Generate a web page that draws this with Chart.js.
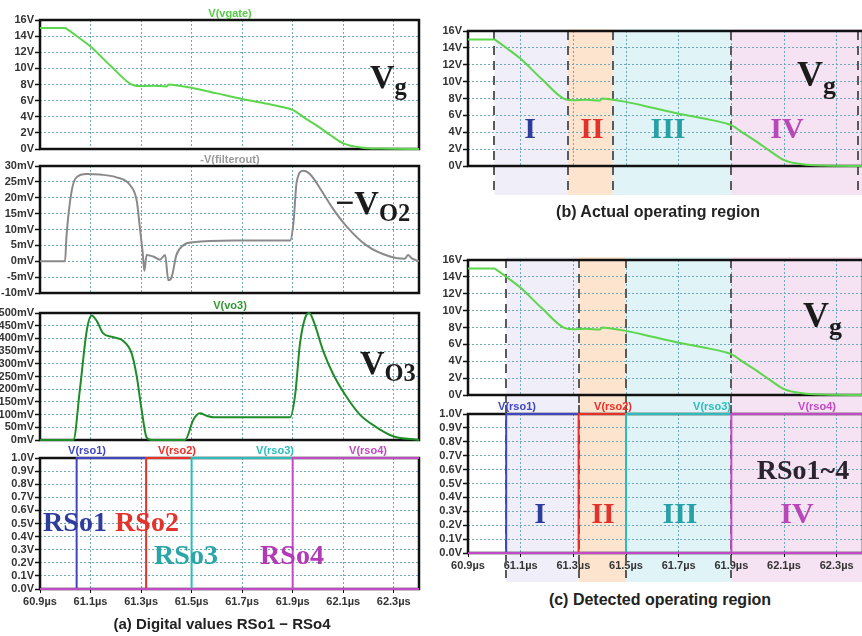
<!DOCTYPE html>
<html>
<head>
<meta charset="utf-8">
<script src="https://cdn.jsdelivr.net/npm/chart.js@4.4.0/dist/chart.umd.min.js"></script>
<style>
    html, body { margin: 0; padding: 0; background: #fff; }
    #page { position: relative; width: 862px; height: 636px; overflow: hidden; background: #fff; font-family: "Liberation Sans", Arial, sans-serif; }
    .cv { position: absolute; }
    .lbl { position: absolute; white-space: nowrap; line-height: 1; }
    .ctr { transform: translate(-50%, -50%); }
    .sig { font-size: 11px; font-weight: bold; }
    .big { font-family: "Liberation Serif", "DejaVu Serif", serif; font-weight: bold; color: #1b1b1b; }
    .big span { font-size: 0.72em; position: relative; top: 0.3em; }
    .cap { font-size: 16px; font-weight: bold; color: #222; }
</style>
</head>
<body>
<div id="page"></div>
<script>
    // --- DATOS ---
    const X_MIN = 60.9;
    const X_MAX = 62.4;
    const X_TICKS = [60.9, 61.1, 61.3, 61.5, 61.7, 61.9, 62.1, 62.3];

    const VG_TICKS = [0, 2, 4, 6, 8, 10, 12, 14, 16];
    const VO2_TICKS = [-10, -5, 0, 5, 10, 15, 20, 25, 30];
    const VO3_TICKS = [0, 50, 100, 150, 200, 250, 300, 350, 400, 450, 500];
    const RSO_TICKS = [0, 0.1, 0.2, 0.3, 0.4, 0.5, 0.6, 0.7, 0.8, 0.9, 1.0];

    // V(vgate) [V]
    const VG_T = [60.9, 61.0, 61.01, 61.05, 61.1, 61.18, 61.27, 61.3, 61.35, 61.4, 61.41, 61.43, 61.5, 61.6, 61.7, 61.8, 61.88, 61.9, 61.95, 62.0, 62.05, 62.1, 62.17, 62.25, 62.4];
    const VG_V = [15, 15, 14.8, 13.9, 12.7, 10.3, 7.9, 7.8, 7.85, 7.75, 8.0, 7.95, 7.6, 6.9, 6.2, 5.6, 5.05, 4.85, 3.8, 2.8, 1.7, 0.7, 0.2, 0.05, 0];

    // -V(filterout) [mV]
    const VO2_T = [60.9, 60.999, 61.005, 61.025, 61.045, 61.085, 61.137, 61.2, 61.256, 61.283, 61.296, 61.306, 61.313, 61.322, 61.348, 61.375, 61.395, 61.408, 61.421, 61.44, 61.467, 61.507, 61.665, 61.89, 61.903, 61.916, 61.942, 61.968, 62.008, 62.06, 62.113, 62.192, 62.285, 62.344, 62.357, 62.37, 62.4];
    const VO2_V = [0, 0, 8, 22, 26.5, 27.5, 27.3, 26.5, 24, 19, 10, 3, -3, 2, 1.5, 0.5, 2, -6, -5, 2, 5, 6, 6.5, 6.5, 12, 25, 28.5, 27.5, 23, 16.5, 11, 5, 1.5, 0.8, 2, 1, 0];

    // V(vo3) [mV]
    const VO3_T = [60.9, 61.032, 61.058, 61.085, 61.104, 61.124, 61.15, 61.19, 61.23, 61.263, 61.283, 61.302, 61.322, 61.342, 61.474, 61.507, 61.533, 61.56, 61.586, 61.89, 61.91, 61.929, 61.949, 61.966, 61.982, 62.021, 62.06, 62.113, 62.166, 62.232, 62.298, 62.4];
    const VO3_V = [0, 0, 200, 430, 490, 470, 420, 405, 390, 340, 250, 120, 10, 0, 0, 80, 105, 95, 90, 90, 180, 380, 480, 500, 470, 350, 260, 170, 100, 50, 15, 0];

    // V(rso1..4)  (null: el flanco de bajada queda tapado en la figura)
    const RSO1_T = [60.9, 61.045, 61.045, 61.32, 61.32, 61.32, 62.4];
    const RSO1_V = [0, 0, 1, 1, null, 0, 0];
    const RSO2_T = [60.9, 61.32, 61.32, 61.5, 61.5, 61.5, 62.4];
    const RSO2_V = [0, 0, 1, 1, null, 0, 0];
    const RSO3_T = [60.9, 61.5, 61.5, 61.9, 61.9, 61.9, 62.4];
    const RSO3_V = [0, 0, 1, 1, null, 0, 0];
    const RSO4_T = [60.9, 61.9, 61.9, 62.4];
    const RSO4_V = [0, 0, 1, 1];

    // regiones de operacion
    const ACTUAL_EDGES = [61.0, 61.28, 61.45, 61.9, 62.38];
    const DETECTED_EDGES = [61.045, 61.32, 61.5, 61.9];

    // --- ESTILOS ---
    const REGION_FILL = ['#f0eef9', '#fde4cf', '#e0f4f8', '#f5e2f3'];
    const RSO_COLORS = ['#3f46c0', '#ec2f26', '#2cbcbc', '#c24ac6'];
    const GRID_COLOR = '#6fa9b9';
    const TICK_FONT = { family: '"Liberation Sans", Arial, sans-serif', size: 11, weight: 'bold' };

    const page = document.getElementById('page');
    const pts = (t, v) => t.map((x, i) => ({ x, y: v[i] }));

    function line(t, v, color, width = 2, smooth = true) {
        return {
            data: pts(t, v), borderColor: color, borderWidth: width, pointRadius: 0, spanGaps: false,
            fill: false, tension: smooth ? 0.4 : 0, cubicInterpolationMode: smooth ? 'monotone' : 'default', clip: false
        };
    }

    // la linea base (0) de las senales digitales se ve magenta en la figura
    const baseMagenta = { borderColor: c => (c.p0.parsed.y === 0 && c.p1.parsed.y === 0) ? RSO_COLORS[3] : undefined };

    function rsoSets() {
        // rso4 primero: queda encima
        return [
            line(RSO4_T, RSO4_V, RSO_COLORS[3], 2, false),
            { ...line(RSO3_T, RSO3_V, RSO_COLORS[2], 2, false), segment: baseMagenta },
            { ...line(RSO2_T, RSO2_V, RSO_COLORS[1], 2, false), segment: baseMagenta },
            { ...line(RSO1_T, RSO1_V, RSO_COLORS[0], 2, false), segment: baseMagenta }
        ];
    }

    const framePlugin = {
        id: 'frame',
        beforeDatasetsDraw(chart) {
            const { ctx, chartArea: a } = chart;
            ctx.save();
            ctx.strokeStyle = '#111';
            ctx.lineWidth = 2.5;
            ctx.strokeRect(a.left, a.top, a.right - a.left, a.bottom - a.top);
            ctx.restore();
        }
    };

    const regionPlugin = {
        id: 'regions',
        beforeDraw(chart, args, o) {
            if (!o.edges) return;
            const { ctx } = chart;
            const x = chart.scales.x;
            ctx.save();
            REGION_FILL.forEach((c, i) => {
                const x0 = x.getPixelForValue(o.edges[i]);
                const x1 = i === REGION_FILL.length - 1 ? chart.width : x.getPixelForValue(o.edges[i + 1]);
                ctx.fillStyle = c;
                ctx.fillRect(x0, o.y0 - o.off, x1 - x0, o.y1 - o.y0);
            });
            ctx.restore();
        },
        beforeDatasetsDraw(chart, args, o) {
            if (!o.edges) return;
            const { ctx } = chart;
            const x = chart.scales.x;
            ctx.save();
            ctx.strokeStyle = '#5a5a5a';
            ctx.lineWidth = 2;
            ctx.setLineDash([9, 6]);
            o.edges.forEach(e => {
                const px = Math.round(x.getPixelForValue(e));
                ctx.beginPath();
                ctx.moveTo(px, o.d0 - o.off);
                ctx.lineTo(px, o.d1 - o.off);
                ctx.stroke();
            });
            ctx.restore();
        }
    };

    function makePanel(box, plot, cfg) {
        const cv = document.createElement('canvas');
        cv.width = box.w;
        cv.height = box.h;
        cv.className = 'cv';
        cv.style.left = box.x + 'px';
        cv.style.top = box.y + 'px';
        page.appendChild(cv);
        const xH = cfg.xLabels ? 18 : 0;
        const regions = cfg.regions ? { ...cfg.regions, off: box.y } : {};

        new Chart(cv, {
            type: 'line',
            data: { datasets: cfg.datasets },
            options: {
                responsive: false,
                animation: false,
                events: [],
                layout: { padding: { left: 0, top: plot.t - box.y, right: box.x + box.w - plot.r, bottom: box.y + box.h - plot.b - xH } },
                plugins: { legend: { display: false }, tooltip: { enabled: false }, regions },
                scales: {
                    x: {
                        type: 'linear', min: X_MIN, max: X_MAX,
                        afterBuildTicks: s => { s.ticks = X_TICKS.map(v => ({ value: v })); },
                        afterFit: s => { s.height = xH; },
                        grid: { color: GRID_COLOR, lineWidth: 1, drawTicks: !!cfg.xLabels, tickLength: 4, tickColor: '#111', tickBorderDash: [] },
                        border: { display: false, dash: [2, 2] },
                        ticks: { display: !!cfg.xLabels, autoSkip: false, maxRotation: 0, padding: 2, color: '#333', font: TICK_FONT, callback: v => v.toFixed(1) + 'µs' }
                    },
                    y: {
                        type: 'linear', min: cfg.yTicks[0], max: cfg.yTicks[cfg.yTicks.length - 1],
                        afterBuildTicks: s => { s.ticks = cfg.yTicks.map(v => ({ value: v })); },
                        afterFit: s => { s.width = plot.l - box.x; },
                        grid: { color: GRID_COLOR, lineWidth: 1, tickLength: 5, tickColor: '#111', tickWidth: 1.5, tickBorderDash: [] },
                        border: { display: false, dash: [2, 2] },
                        ticks: { autoSkip: false, padding: 1, color: '#333', font: TICK_FONT, callback: cfg.yFmt }
                    }
                }
            },
            plugins: [regionPlugin, framePlugin]
        });
    }

    function addLabel(html, x, y, cls, style = '') {
        const d = document.createElement('div');
        d.className = 'lbl ' + cls;
        d.innerHTML = html;
        d.style.cssText += `left:${x}px;top:${y}px;${style}`;
        page.appendChild(d);
    }

    const fmtV = v => v + 'V';
    const fmtMV = v => v + 'mV';
    const fmtV1 = v => v.toFixed(1) + 'V';

    // --- (a) columna izquierda ---
    makePanel({ x: 0, y: 0, w: 430, h: 160 }, { l: 40, t: 20, r: 419, b: 149 },
        { yTicks: VG_TICKS, yFmt: fmtV, datasets: [line(VG_T, VG_V, '#5cd64c')] });
    makePanel({ x: 0, y: 153, w: 430, h: 150 }, { l: 40, t: 166, r: 419, b: 293 },
        { yTicks: VO2_TICKS, yFmt: fmtMV, datasets: [line(VO2_T, VO2_V, '#8a8a8a')] });
    makePanel({ x: 0, y: 300, w: 430, h: 150 }, { l: 40, t: 313, r: 419, b: 440 },
        { yTicks: VO3_TICKS, yFmt: fmtMV, datasets: [line(VO3_T, VO3_V, '#1e8c28')] });
    makePanel({ x: 0, y: 445, w: 430, h: 170 }, { l: 40, t: 458, r: 419, b: 589 },
        { yTicks: RSO_TICKS, yFmt: fmtV1, xLabels: true, datasets: rsoSets() });

    // --- (b) region real ---
    makePanel({ x: 430, y: 18, w: 434, h: 190 }, { l: 468, t: 31, r: 863, b: 166 },
        { yTicks: VG_TICKS, yFmt: fmtV, datasets: [line(VG_T, VG_V, '#5cd64c')],
          regions: { edges: ACTUAL_EDGES, y0: 29, y1: 195, d0: 31, d1: 190 } });

    // --- (c) region detectada ---
    makePanel({ x: 430, y: 248, w: 434, h: 157 }, { l: 468, t: 260, r: 863, b: 395 },
        { yTicks: VG_TICKS, yFmt: fmtV, datasets: [line(VG_T, VG_V, '#5cd64c')],
          regions: { edges: DETECTED_EDGES, y0: 257, y1: 405, d0: 259, d1: 405 } });
    makePanel({ x: 430, y: 405, w: 434, h: 185 }, { l: 468, t: 414, r: 863, b: 553 },
        { yTicks: RSO_TICKS, yFmt: fmtV1, xLabels: true, datasets: rsoSets(),
          regions: { edges: DETECTED_EDGES, y0: 405, y1: 582, d0: 405, d1: 578 } });

    // --- TEXTOS ---
    addLabel('V(vgate)', 230, 13, 'ctr sig', 'color:#55cc44;');
    addLabel('-V(filterout)', 230, 159, 'ctr sig', 'color:#9a9a9a;');
    addLabel('V(vo3)', 230, 305, 'ctr sig', 'color:#2e9a2e;');
    [['V(rso1)', 87], ['V(rso2)', 177], ['V(rso3)', 275], ['V(rso4)', 368]].forEach(([t, x], i) =>
        addLabel(t, x, 450, 'ctr sig', `color:${RSO_COLORS[i]};`));
    [['V(rso1)', 517], ['V(rso2)', 613], ['V(rso3)', 712], ['V(rso4)', 817]].forEach(([t, x], i) =>
        addLabel(t, x, 406, 'ctr sig', `color:${RSO_COLORS[i]};`));

    addLabel('V<span>g</span>', 370, 60, 'big', 'font-size:34px;');
    addLabel('−V<span>O2</span>', 335, 186, 'big', 'font-size:34px;');
    addLabel('V<span>O3</span>', 360, 346, 'big', 'font-size:34px;');
    addLabel('V<span>g</span>', 797, 56, 'big', 'font-size:36px;');
    addLabel('V<span>g</span>', 803, 297, 'big', 'font-size:36px;');

    const serif = 'font-family:"Liberation Serif","DejaVu Serif",serif;font-weight:bold;';
    addLabel('RSo1', 75, 522, 'ctr', serif + 'font-size:28px;color:#2e3d9c;');
    addLabel('RSo2', 147, 522, 'ctr', serif + 'font-size:28px;color:#e3322b;');
    addLabel('RSo3', 186, 555, 'ctr', serif + 'font-size:28px;color:#2ba5a8;');
    addLabel('RSo4', 292, 555, 'ctr', serif + 'font-size:28px;color:#b23ab6;');
    addLabel('RSo1~4', 803, 470, 'ctr', serif + 'font-size:28px;color:#2b2330;');

    const ROMAN_COLORS = ['#2e3d9c', '#e3322b', '#27a0a6', '#b848b8'];
    [['I', 530], ['II', 592], ['III', 668], ['IV', 787]].forEach(([t, x], i) =>
        addLabel(t, x, 128, 'ctr', serif + `font-size:30px;color:${ROMAN_COLORS[i]};`));
    [['I', 540], ['II', 603], ['III', 680], ['IV', 797]].forEach(([t, x], i) =>
        addLabel(t, x, 513, 'ctr', serif + `font-size:30px;color:${ROMAN_COLORS[i]};`));

    addLabel('(a) Digital values RSo1 − RSo4', 222, 623, 'ctr cap', 'font-size:15px;');
    addLabel('(b) Actual operating region', 658, 212, 'ctr cap');
    addLabel('(c) Detected operating region', 660, 600, 'ctr cap');
</script>
</body>
</html>
